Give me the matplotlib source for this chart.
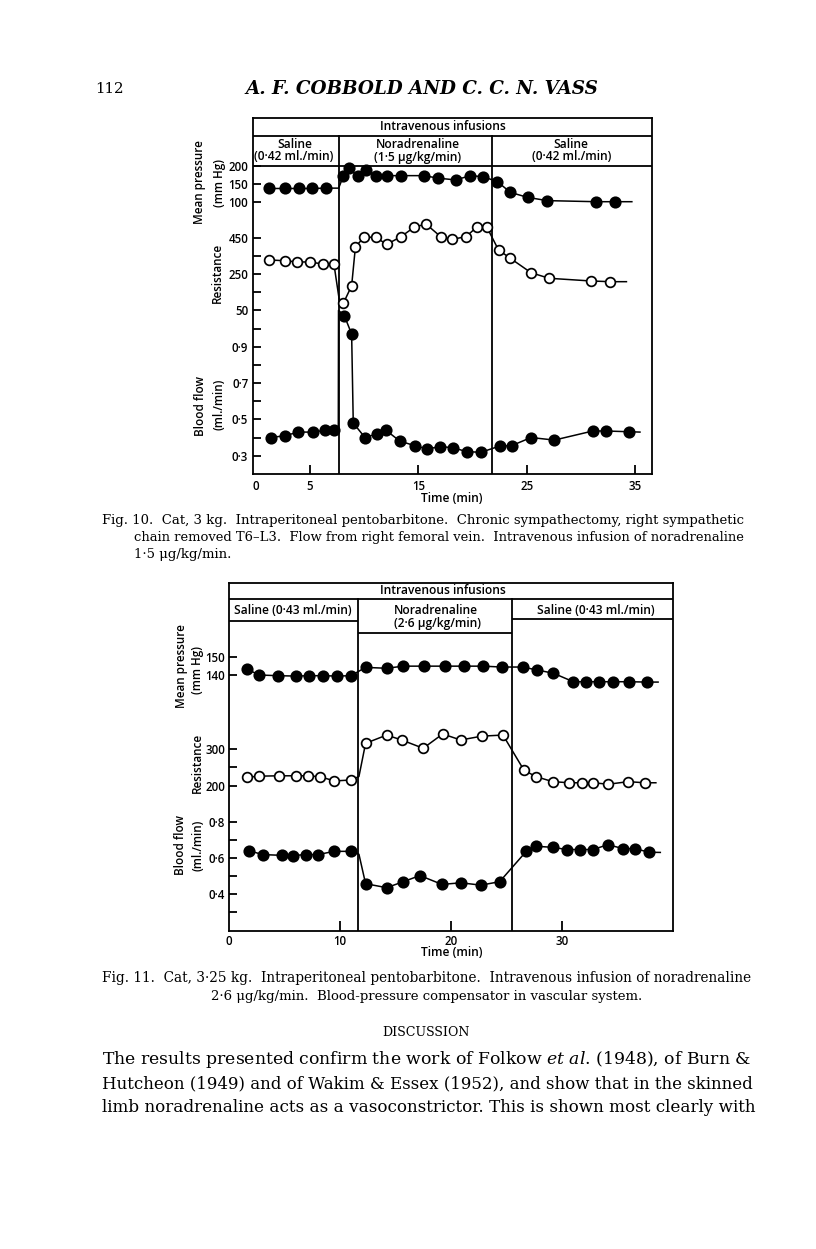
import matplotlib
matplotlib.use('Agg')
import matplotlib.pyplot as plt

W, H = 816, 1249

# ---------------- Fig. 10 (time in min) ----------------
f10_press_t = [1.23, 2.7, 4.0, 5.2, 6.45, 8.08, 8.6, 9.4, 10.2, 11.1, 12.1, 13.4, 15.55,
               16.8, 18.45, 19.8, 21.0, 22.3, 23.5, 25.1, 26.9, 31.4, 33.1]
f10_press = [137, 137, 137, 137, 138, 171, 194, 171, 189, 173, 173, 173, 173,
             166, 161, 173, 170, 156, 126, 112, 103, 100, 100]
f10_press_join_t = [7.65, 34.7]
f10_press_join = [138, 100]

f10_res_t = [1.23, 2.7, 3.84, 5.0, 6.24, 7.22, 8.08, 8.85, 9.2, 10.0, 11.07, 12.08, 13.4,
             14.6, 15.7, 17.07, 18.08, 19.4, 20.44, 21.3, 22.4, 23.5, 25.4, 27.06, 30.9, 32.7]
f10_res = [329, 325, 318, 318, 306, 305, 87, 185, 403, 456, 456, 416, 459,
           511, 530, 459, 444, 459, 515, 515, 385, 338, 258, 227, 212, 208]
f10_res_join_t = [7.7, 34.2]
f10_res_join = [110, 208]

f10_flow_t = [1.38, 2.7, 3.93, 5.26, 6.39, 7.22, 8.18, 8.85, 9.0, 10.08, 11.16, 12.02, 13.3,
              14.7, 15.83, 17.0, 18.23, 19.46, 20.8, 22.5, 23.6, 25.4, 27.55, 31.1, 32.3, 34.4]
f10_flow = [0.40, 0.41, 0.43, 0.43, 0.44, 0.44, 1.07, 0.97, 0.48, 0.40, 0.42, 0.44, 0.38,
            0.355, 0.337, 0.35, 0.344, 0.322, 0.319, 0.353, 0.355, 0.40, 0.386, 0.436, 0.436, 0.432]
f10_flow_join_t = [7.62, 7.64, 35.45]
f10_flow_join = [0.44, 1.10, 0.43]

# ---------------- Fig. 11 ----------------
f11_press_t = [1.63, 2.71, 4.43, 6.02, 7.19, 8.49, 9.69, 10.98, 12.3, 14.2, 15.7, 17.6, 19.47,
               21.2, 22.9, 24.6, 26.5, 27.8, 29.25, 31.05, 32.2, 33.4, 34.6, 36.1, 37.7]
f11_press = [143.2, 140, 139.6, 139.4, 139.6, 139.6, 139.4, 139.6, 144.3, 143.8, 145, 145, 145,
             145, 145, 144.5, 144.5, 142.8, 141, 136.2, 136.2, 136.2, 136.2, 136.2, 136]
f11_press_join_t = [38.7]
f11_press_join = [136]

f11_res_t = [1.63, 2.71, 4.5, 6.02, 7.07, 8.19, 9.48, 10.98, 12.3, 14.2, 15.56, 17.5, 19.26,
             20.88, 22.78, 24.7, 26.6, 27.7, 29.2, 30.7, 31.8, 32.85, 34.2, 36.0, 37.5]
f11_res = [223, 226, 227, 227, 227, 224.5, 213, 215.5, 315.5, 338, 324.5, 302, 341,
           324.5, 335, 338, 242, 224.5, 211, 208, 208, 208, 204, 211, 208]
f11_res_join_t = [11.7, 38.5]
f11_res_join = [225, 208]

f11_flow_t = [1.78, 3.0, 4.73, 5.78, 6.92, 7.98, 9.48, 10.96, 12.3, 14.2, 15.7, 17.2, 19.2,
              20.9, 22.7, 24.4, 26.8, 27.7, 29.25, 30.45, 31.65, 32.85, 34.15, 35.55, 36.6, 37.9]
f11_flow = [0.64, 0.618, 0.614, 0.613, 0.618, 0.618, 0.636, 0.636, 0.457, 0.435, 0.468, 0.502, 0.453,
            0.462, 0.449, 0.468, 0.636, 0.664, 0.658, 0.646, 0.646, 0.646, 0.673, 0.651, 0.651, 0.631]
f11_flow_join_t = [11.7, 38.9]
f11_flow_join = [0.62, 0.63]

# infusion periods (min)
f10_periods = [7.65, 21.8]
f11_periods = [11.65, 25.55]

plt.rcParams['font.family'] = ['Open Sans', 'DejaVu Sans']
plt.rcParams['mathtext.fontset'] = 'custom'
plt.rcParams['mathtext.rm'] = 'DejaVu Serif'
plt.rcParams['mathtext.it'] = 'DejaVu Serif:italic'

fig = plt.figure(figsize=(W / 100, H / 100), dpi=100)
renderer = fig.canvas.get_renderer()
LW = 1.3
SANS_W = 'semibold'


def rect(x0, y0, x1, y1):
    return [x0 / W, 1 - y1 / H, (x1 - x0) / W, (y1 - y0) / H]


def ftext(x, y, s, width=None, size=8, ha='center', rot=0, **kw):
    t = fig.text(x / W, 1 - y / H, s, ha=ha, va='center', fontsize=size, **kw)
    if width:
        w = t.get_window_extent(renderer).width
        t.set_fontsize(size * width / w)
    if rot:
        t.set_rotation(rot)
    return t


def frame(box, t0_px, px_min, xticks, labels, tick_len, pad):
    x0, y0, x1, y1 = box
    fa = fig.add_axes(rect(*box))
    fa.set_xlim((x0 - t0_px) / px_min, (x1 - t0_px) / px_min)
    fa.set_ylim(y1, y0)
    fa.patch.set_alpha(0)
    for s in fa.spines.values():
        s.set_linewidth(LW)
    fa.set_yticks([])
    fa.set_xticks(xticks)
    fa.set_xticklabels(labels, fontweight=SANS_W)
    fa.tick_params(axis='x', direction='in', length=tick_len, width=LW, labelsize=8.3, pad=pad)
    fa.xaxis.get_major_ticks()[0].tick1line.set_visible(False)
    return fa


def panel(box, xlim, ref, ticks, labels):
    (v1, p1), (v2, p2) = ref
    k = (v2 - v1) / (p2 - p1)
    pa = fig.add_axes(rect(*box))
    pa.patch.set_alpha(0)
    pa.set_xlim(xlim)
    pa.set_ylim(v1 + (box[3] - p1) * k, v1 + (box[1] - p1) * k)
    for s in pa.spines.values():
        s.set_visible(False)
    pa.xaxis.set_visible(False)
    pa.set_yticks(ticks)
    pa.set_yticklabels(labels, fontweight=SANS_W)
    pa.tick_params(axis='y', direction='in', length=6, width=LW, labelsize=8.3, pad=3)
    return pa


def trace(ax, t, v, jt, jv, hollow=False):
    pts = sorted(zip(t + jt, v + jv))
    ax.plot([p[0] for p in pts], [p[1] for p in pts], color='k', lw=1.1, zorder=3, clip_on=False)
    ax.plot(t, v, 'o', ls='none', ms=7.0 if hollow else 7.5, mfc='white' if hollow else 'k',
            mec='k', mew=1.25, zorder=4, clip_on=False)


# ---------------- page header ----------------
ftext(95, 89, '112', width=29, ha='left', family='DejaVu Serif')
ftext(245, 89, 'A. F. COBBOLD AND C. C. N. VASS', width=355, ha='left',
      family='DejaVu Serif', style='italic', weight='bold')

# ---------------- Fig. 10 ----------------
box10 = (252.5, 118, 652, 473.5)
fa = frame(box10, 255.7, 10.84, [0, 5, 15, 25, 35], ['0', '5', '15', '25', '35'], 6.5, 4.5)
xl = fa.get_xlim()
fa.axhline(135.7, color='k', lw=LW)
fa.axhline(166, color='k', lw=LW)
for p in f10_periods:
    fa.plot([p, p], [135.7, 473.5], color='k', lw=LW)

pp = panel(box10, xl, ((200, 166), (100, 201.7)), [200, 150, 100], ['200', '150', '100'])
pr = panel(box10, xl, ((450, 238.3), (50, 310)), [450, 350, 250, 150, 50],
           ['450', '', '250', '', '50'])
pf = panel(box10, xl, ((0.9, 346.7), (0.3, 455.7)), [1.0, 0.9, 0.8, 0.7, 0.6, 0.5, 0.4, 0.3],
           ['', '0\u00b79', '', '0\u00b77', '', '0\u00b75', '', '0\u00b73'])
trace(pf, f10_flow_t, f10_flow, f10_flow_join_t, f10_flow_join)
trace(pp, f10_press_t, f10_press, f10_press_join_t, f10_press_join)
trace(pr, f10_res_t, f10_res, f10_res_join_t, f10_res_join, hollow=True)

hs = ftext(443, 126.7, 'Intravenous infusions', width=125, weight=SANS_W).get_fontsize()
for x, y, s in [(295, 144, 'Saline'), (294, 156.7, '(0\u00b742 ml./min)'),
                (417.5, 144, 'Noradrenaline'), (418, 157, '(1\u00b75 \u03bcg/kg/min)'),
                (571, 144, 'Saline'), (572, 157, '(0\u00b742 ml./min)')]:
    ftext(x, y, s, size=hs, weight=SANS_W)
ftext(452, 499, 'Time (min)', size=hs, weight=SANS_W)

probe = ftext(400, 300, 'Resistance', width=60, weight=SANS_W)
ls = probe.get_fontsize()
probe.remove()
for x, y, s in [(199, 182, 'Mean pressure'), (219, 183, '(mm Hg)'), (217, 273, 'Resistance'),
                (200, 406, 'Blood flow'), (219, 404, '(ml./min)')]:
    ftext(x, y, s, size=ls, rot=90, weight=SANS_W)

cap = ftext(102, 520, 'Fig. 10.  Cat, 3 kg.  Intraperitoneal pentobarbitone.  '
            'Chronic sympathectomy, right sympathetic', width=648, ha='left',
            family='DejaVu Serif').get_fontsize()
ftext(134, 537.5, 'chain removed T6\u2013L3.  Flow from right femoral vein.  '
      'Intravenous infusion of noradrenaline', width=616, ha='left', family='DejaVu Serif')
ftext(134, 555, '1\u00b75 \u03bcg/kg/min.', size=cap, ha='left', family='DejaVu Serif')

# ---------------- Fig. 11 ----------------
box11 = (229.3, 582.7, 672.5, 931)
fb = frame(box11, 229.3, 11.08, [0, 10, 20, 30], ['0', '10', '20', '30'], 7, 3)
xl = fb.get_xlim()
fb.axhline(599, color='k', lw=LW)
fb.hlines(620.7, xl[0], f11_periods[0], color='k', lw=LW)
fb.hlines(633.3, f11_periods[0], f11_periods[1], color='k', lw=LW)
fb.hlines(619.3, f11_periods[1], xl[1], color='k', lw=LW)
for p in f11_periods:
    fb.plot([p, p], [599, 931], color='k', lw=LW)

qp = panel(box11, xl, ((150, 657.3), (140, 675)), [150, 140], ['150', '140'])
qr = panel(box11, xl, ((300, 749), (200, 785.7)), [300, 250, 200], ['300', '', '200'])
qf = panel(box11, xl, ((0.8, 821.7), (0.4, 894)), [0.8, 0.7, 0.6, 0.5, 0.4, 0.3],
           ['0\u00b78', '', '0\u00b76', '', '0\u00b74', ''])
trace(qp, f11_press_t, f11_press, f11_press_join_t, f11_press_join)
trace(qr, f11_res_t, f11_res, f11_res_join_t, f11_res_join, hollow=True)
trace(qf, f11_flow_t, f11_flow, f11_flow_join_t, f11_flow_join)

ftext(442.5, 590.5, 'Intravenous infusions', size=hs, weight=SANS_W)
ftext(293, 611, 'Saline (0\u00b743 ml./min)', size=hs, weight=SANS_W)
ftext(436, 610.5, 'Noradrenaline', size=hs, weight=SANS_W)
ftext(438, 623.3, '(2\u00b76 \u03bcg/kg/min)', size=hs, weight=SANS_W)
ftext(596, 610, 'Saline (0\u00b743 ml./min)', size=hs, weight=SANS_W)
ftext(452, 952.7, 'Time (min)', size=hs, weight=SANS_W)
for x, y, s in [(181, 666, 'Mean pressure'), (197.5, 670, '(mm Hg)'), (197, 763, 'Resistance'),
                (181, 845, 'Blood flow'), (197.5, 845, '(ml./min)')]:
    ftext(x, y, s, size=ls, rot=90, weight=SANS_W)

ftext(102, 978, 'Fig. 11.  Cat, 3\u00b725 kg.  Intraperitoneal pentobarbitone.  '
      'Intravenous infusion of noradrenaline', width=648, ha='left', family='DejaVu Serif')
ftext(427, 996.7, '2\u00b76 \u03bcg/kg/min.  Blood-pressure compensator in vascular system.',
      size=cap, family='DejaVu Serif')

ftext(426, 1033, 'DISCUSSION', size=cap * 0.95, family='DejaVu Serif')
body = ['The results presented confirm the work of Folkow $\\mathit{et\\ al}$. (1948), of Burn &',
        'Hutcheon (1949) and of Wakim & Essex (1952), and show that in the skinned',
        'limb noradrenaline acts as a vasoconstrictor. This is shown most clearly with']
for i, line in enumerate(body):
    ftext(102, 1060 + 23.5 * i, line, width=649, size=12, ha='left', family='DejaVu Serif')

fig.savefig('out.png', dpi=100)
